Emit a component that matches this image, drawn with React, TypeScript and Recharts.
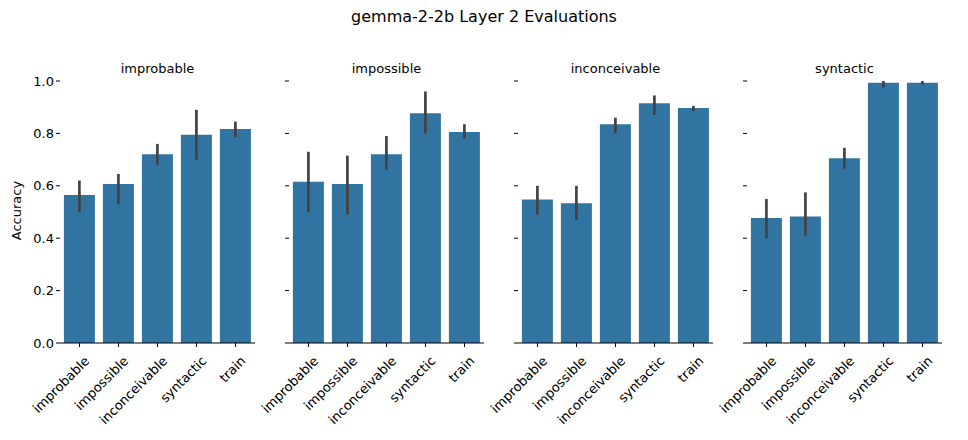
import { BarChart, Bar, XAxis, YAxis, ErrorBar } from 'recharts';

const categories = ['improbable', 'impossible', 'inconceivable', 'syntactic', 'train'];
const panels = ['improbable', 'impossible', 'inconceivable', 'syntactic'];

const means = [
  [0.565, 0.607, 0.72, 0.795, 0.817],
  [0.615, 0.607, 0.72, 0.877, 0.805],
  [0.548, 0.533, 0.835, 0.915, 0.897],
  [0.477, 0.483, 0.705, 0.993, 0.993],
];
const lows = [
  [0.5, 0.53, 0.68, 0.7, 0.785],
  [0.5, 0.49, 0.66, 0.8, 0.78],
  [0.49, 0.47, 0.8, 0.87, 0.885],
  [0.4, 0.41, 0.665, 0.975, 0.985],
];
const highs = [
  [0.62, 0.645, 0.76, 0.89, 0.845],
  [0.73, 0.715, 0.79, 0.96, 0.835],
  [0.6, 0.6, 0.86, 0.945, 0.905],
  [0.55, 0.575, 0.745, 1.0, 1.0],
];
const yTicks = [0, 0.2, 0.4, 0.6, 0.8, 1.0];

const plotLefts = [60, 289, 518, 747];
const plotWidth = 195;
const axisW = 50;
const font = 'DejaVu Sans';

const RotTick = (props: any) => {
  const { x, y, payload } = props;
  return (
    <text x={x + 4} y={y + 6} transform={`rotate(-45 ${x + 4} ${y + 6})`} textAnchor="end"
      dominantBaseline="hanging" fontSize={13} fontFamily={font} fill="#000">
      {payload.value}
    </text>
  );
};

export default function App() {
  return (
    <div style={{ position: 'fixed', top: 0, left: 0, width: 968, height: 440, background: '#fff', fontFamily: font }}>
      <div style={{ position: 'absolute', top: 7, width: 968, textAlign: 'center', fontSize: 16 }}>
        gemma-2-2b Layer 2 Evaluations
      </div>
      <div style={{ position: 'absolute', left: -14, top: 203, transform: 'rotate(-90deg)', fontSize: 13, width: 60, textAlign: 'center' }}>
        Accuracy
      </div>
      {panels.map((p, pi) => {
        const data = categories.map((c, i) => ({
          name: c,
          v: means[pi][i],
          err: [means[pi][i] - lows[pi][i], highs[pi][i] - means[pi][i]],
        }));
        return (
          <div key={p} style={{ position: 'absolute', left: plotLefts[pi] - axisW, top: 0 }}>
            <div style={{ position: 'absolute', left: axisW, width: plotWidth, top: 61, textAlign: 'center', fontSize: 13 }}>{p}</div>
            <BarChart width={axisW + plotWidth + 5} height={440} data={data}
              margin={{ top: 70, right: 5, left: 0, bottom: 0 }} barCategoryGap="10%">
              <YAxis domain={[0, 1.042]} ticks={yTicks} width={axisW} axisLine={false}
                tickLine={{ stroke: '#000' }} tickSize={4}
                tick={{ fontSize: 13, fontFamily: font, fill: '#000' }}
                tickFormatter={(v: number) => (pi === 0 ? v.toFixed(1) : '')} />
              <XAxis dataKey="name" height={97} interval={0} axisLine={{ stroke: '#000' }}
                tickLine={{ stroke: '#000' }} tickSize={4} tick={<RotTick />} />
              <Bar dataKey="v" fill="#3274a1" isAnimationActive={false}>
                <ErrorBar dataKey="err" width={0} stroke="#424242" strokeWidth={2.7} />
              </Bar>
            </BarChart>
          </div>
        );
      })}
    </div>
  );
}
